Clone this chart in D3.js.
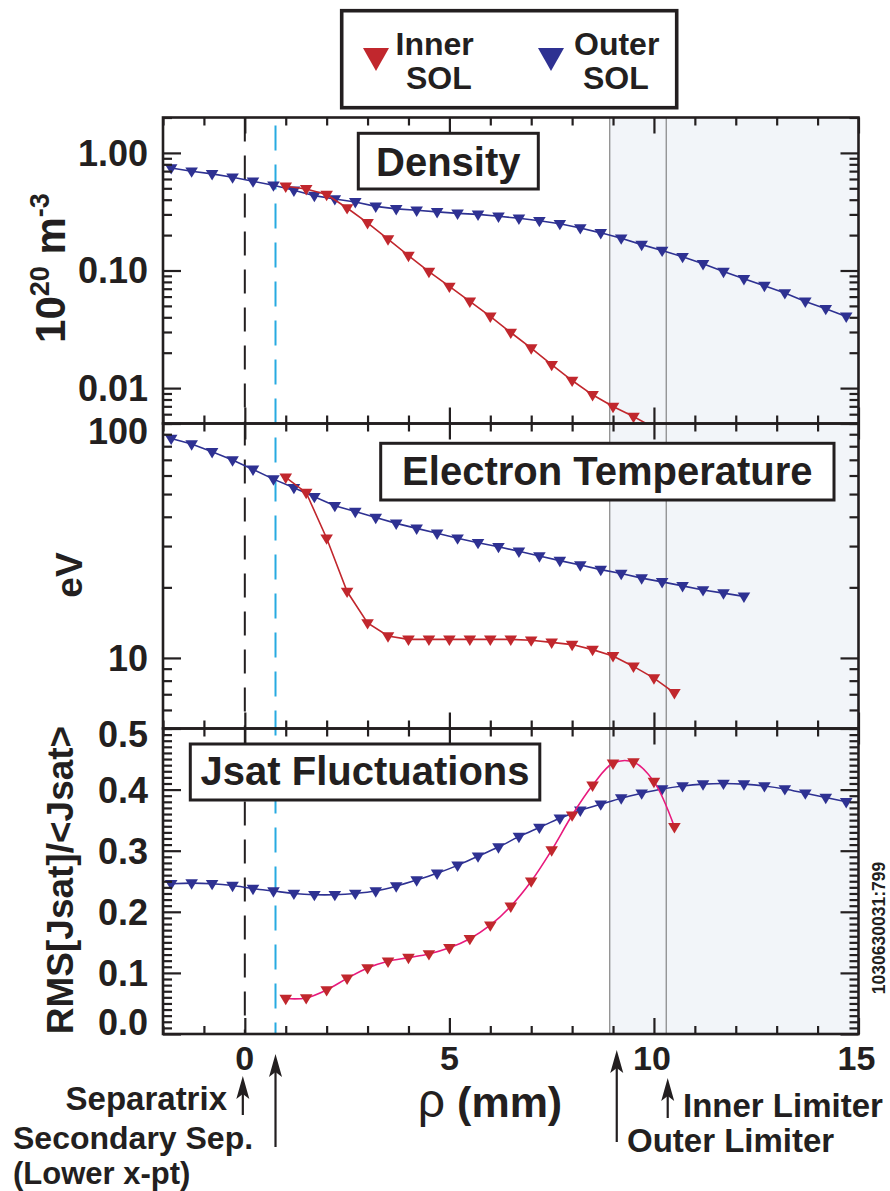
<!DOCTYPE html>
<html><head><meta charset="utf-8">
<script src="https://cdn.jsdelivr.net/npm/d3@7"></script>
<style>
body{margin:0;background:#fff}
svg{display:block}
text{font-family:"Liberation Sans",Arial,Helvetica,sans-serif;font-weight:bold;fill:#231f20}
</style></head><body>
<svg id="c" width="890" height="1191"></svg>
<script>
// ---------------- data ----------------
const outerX = [-1.8,-1.3,-0.8,-0.3,0.2,0.7,1.2,1.7,2.2,2.7,3.2,3.7,4.2,4.7,5.2,5.7,6.2,6.7,7.2,7.7,8.2,8.7,9.2,9.7,10.2,10.7,11.2,11.7,12.2,12.7,13.2,13.7,14.2,14.7];
const innerX = [1.0,1.5,2.0,2.5,3.0,3.5,4.0,4.5,5.0,5.5,6.0,6.5,7.0,7.5,8.0,8.5,9.0,9.5,10.0,10.5];

const densityOuter = [0.745,0.698,0.663,0.621,0.574,0.531,0.481,0.433,0.406,0.383,0.351,0.334,0.325,0.315,0.306,0.300,0.289,0.278,0.265,0.250,0.230,0.209,0.188,0.166,0.148,0.131,0.114,0.098,0.085,0.0743,0.0644,0.0546,0.0473,0.0407];
const densityInner = [0.520,0.494,0.442,0.340,0.254,0.185,0.134,0.098,0.0732,0.0546,0.0407,0.0297,0.0219,0.0158,0.0116,0.00877,0.00697,0.00573,0.0046];

const tempOuter = [86.3,81.7,75.7,69.8,63.7,57.9,53.2,48.7,44.6,42.1,39.7,37.5,35.7,34.0,32.4,31.0,29.8,28.5,27.2,26.0,24.9,23.8,22.9,21.9,21.1,20.3,19.5,18.9,18.3];
const tempInner = [58.9,50.7,32.4,19.2,14.1,12.4,12.0,12.0,12.0,12.0,12.0,12.0,11.9,11.65,11.4,10.85,10.2,9.2,8.2,7.1];

const jsatOuter = [0.246,0.247,0.246,0.243,0.238,0.234,0.230,0.228,0.228,0.230,0.234,0.242,0.252,0.263,0.276,0.291,0.306,0.323,0.338,0.353,0.366,0.376,0.386,0.394,0.401,0.406,0.409,0.410,0.409,0.406,0.401,0.394,0.387,0.380];
const jsatInner = [0.058,0.059,0.072,0.091,0.108,0.119,0.125,0.131,0.141,0.156,0.178,0.209,0.250,0.301,0.358,0.407,0.443,0.445,0.413,0.339];

const xTickLabels = [0,5,10,15];
const densityTicks = [1,0.1,0.01];
const densityTickLabels = ["1.00","0.10","0.01"];
const tempTicks = [100,10];
const tempTickLabels = ["100","10"];
const jsatTicks = [0.5,0.4,0.3,0.2,0.1,0.0];
const jsatTickLabels = ["0.5","0.4","0.3","0.2","0.1","0.0"];

const separatrixX = 0, secondarySepX = 0.75, outerLimiterX = 8.92, innerLimiterX = 10.3;

// ---------------- layout ----------------
const BLUE="#2e3192", RED="#c1272d", PINK="#e8197d", CYAN="#27aae1", INK="#231f20", SHADE="#f2f5f9";
const svg = d3.select("#c");
const L=163, R=858.5;
const x = d3.scaleLinear().domain([-2,15]).range([L,R]);

const panels = [
  {id:"p1", top:117.5, bottom:423.5, y:d3.scaleLog().domain([0.005,2]),
   major:densityTicks, labels:densityTickLabels, labOff:[0,0,0],
   outer:{x:outerX, v:densityOuter}, inner:{x:innerX.slice(0,densityInner.length), v:densityInner},
   innerLine:RED, curve:d3.curveLinear,
   box:{x0:358.3,x1:538.3,y0:133.3,y1:189,base:175.7,text:"Density"}},
  {id:"p2", top:423.5, bottom:728.5, y:d3.scaleLog().domain([5,100]),
   major:tempTicks, labels:tempTickLabels, labOff:[7.5,0],
   outer:{x:outerX.slice(0,tempOuter.length), v:tempOuter}, inner:{x:innerX, v:tempInner},
   innerLine:RED, curve:d3.curveLinear,
   box:{x0:380.7,x1:834,y0:443.3,y1:500,base:485,text:"Electron Temperature"}},
  {id:"p3", top:728.5, bottom:1034, y:d3.scaleLinear().domain([0,0.5]),
   major:jsatTicks, labels:jsatTickLabels, labOff:[5.5,0,0,0,0,-11.5],
   outer:{x:outerX, v:jsatOuter}, inner:{x:innerX, v:jsatInner},
   innerLine:PINK, curve:d3.curveCatmullRom,
   box:{x0:190.3,x1:539.8,y0:744,y1:800,base:785,text:"Jsat Fluctuations"}}
];
panels.forEach(p=>p.y.range([p.bottom,p.top]));

const defs = svg.append("defs");
const tri = "M-6.3,-3.8L6.3,-3.8L0,6.6Z";

panels.forEach(p=>{
  defs.append("clipPath").attr("id","clip-"+p.id).append("rect")
    .attr("x",L).attr("y",p.top).attr("width",R-L).attr("height",p.bottom-p.top);
  svg.append("rect").attr("x",x(outerLimiterX)).attr("y",p.top)
    .attr("width",R-x(outerLimiterX)).attr("height",p.bottom-p.top).attr("fill",SHADE);
});

// vertical reference lines spanning all panels
const yTop = panels[0].top, yBot = panels[2].bottom;
[outerLimiterX, innerLimiterX].forEach(v=>{
  svg.append("line").attr("x1",x(v)).attr("x2",x(v)).attr("y1",yTop).attr("y2",yBot)
    .attr("stroke","#7a7a7a").attr("stroke-width",1.1);
});
svg.append("line").attr("x1",x(separatrixX)).attr("x2",x(separatrixX)).attr("y1",yTop).attr("y2",yBot)
  .attr("stroke",INK).attr("stroke-width",2).attr("stroke-dasharray","24,14");
svg.append("line").attr("x1",x(secondarySepX)).attr("x2",x(secondarySepX)).attr("y1",yTop+8).attr("y2",yBot)
  .attr("stroke",CYAN).attr("stroke-width",2).attr("stroke-dasharray","25,14");

panels.forEach(p=>{
  const g = svg.append("g").attr("clip-path","url(#clip-"+p.id+")");
  const series = [
    {d:p.outer, line:BLUE, fill:BLUE},
    {d:p.inner, line:p.innerLine, fill:RED}
  ];
  series.forEach(s=>{
    const pts = s.d.x.map((xx,i)=>[xx,s.d.v[i]]);
    const line = d3.line().x(d=>x(d[0])).y(d=>p.y(d[1])).curve(p.curve);
    g.append("path").attr("d",line(pts)).attr("fill","none").attr("stroke",s.line).attr("stroke-width",1.6);
    g.selectAll(null).data(pts).enter().append("path")
      .attr("d",tri).attr("transform",d=>`translate(${x(d[0])},${p.y(d[1])})`)
      .attr("fill",s.fill);
  });

  // title box
  const b=p.box;
  svg.append("rect").attr("x",b.x0).attr("y",b.y0).attr("width",b.x1-b.x0).attr("height",b.y1-b.y0)
    .attr("fill","#fff").attr("stroke",INK).attr("stroke-width",3);
  svg.append("text").attr("x",(b.x0+b.x1)/2).attr("y",b.base).attr("text-anchor","middle")
    .attr("font-size",40).text(b.text);

  // frame
  svg.append("rect").attr("x",L).attr("y",p.top).attr("width",R-L).attr("height",p.bottom-p.top)
    .attr("fill","none").attr("stroke",INK).attr("stroke-width",2.6);

  // y ticks (inward, both sides)
  let minor;
  if (p.id==="p3") minor = d3.range(0,51).map(i=>i/100).filter(v=>Math.round(v*100)%10!==0);
  else minor = p.y.ticks().filter(v=>!p.major.some(m=>Math.abs(m-v)/m<1e-6));
  const mk = (ax,tx)=>{
    const a = svg.append("g").attr("transform",tx).call(ax);
    a.select(".domain").remove();
    a.selectAll("line").attr("stroke",INK).attr("stroke-width",2.2);
    return a;
  };
  mk(d3.axisLeft(p.y).tickValues(minor).tickSize(-9).tickFormat(""),`translate(${L},0)`);
  mk(d3.axisLeft(p.y).tickValues(p.major).tickSize(-18).tickFormat(""),`translate(${L},0)`);
  mk(d3.axisRight(p.y).tickValues(minor).tickSize(-9).tickFormat(""),`translate(${R},0)`);
  mk(d3.axisRight(p.y).tickValues(p.major).tickSize(-18).tickFormat(""),`translate(${R},0)`);

  // y tick labels
  p.major.forEach((v,i)=>{
    svg.append("text").attr("x",148).attr("y",p.y(v)+(p.labOff[i]||0)).attr("dy","0.36em")
      .attr("text-anchor","end").attr("font-size",36).text(p.labels[i]);
  });

  // x ticks top and bottom (inward)
  const xMinor = d3.range(-2,16).filter(v=>v%5!==0);
  const xMajor = d3.range(-2,16).filter(v=>v%5===0);
  mk(d3.axisTop(x).tickValues(xMinor).tickSize(-8).tickFormat(""),`translate(0,${p.top})`);
  mk(d3.axisTop(x).tickValues(xMajor).tickSize(-16).tickFormat(""),`translate(0,${p.top})`);
  mk(d3.axisBottom(x).tickValues(xMinor).tickSize(-8).tickFormat(""),`translate(0,${p.bottom})`);
  mk(d3.axisBottom(x).tickValues(xMajor).tickSize(-16).tickFormat(""),`translate(0,${p.bottom})`);
});

// x tick labels
xTickLabels.forEach(v=>{
  svg.append("text").attr("x",x(v)-(v>=10?2:0)).attr("y",1070).attr("text-anchor","middle")
    .attr("font-size",34).text(v);
});

// x axis title
const xt = svg.append("text").attr("x",490).attr("y",1117).attr("text-anchor","middle").attr("font-size",43);
xt.append("tspan").attr("font-weight","normal").attr("font-size",48).text("ρ");
xt.append("tspan").text(" (mm)");

// y axis titles
const yt1 = svg.append("text").attr("transform","translate(65,268) rotate(-90)").attr("text-anchor","middle").attr("font-size",42);
yt1.append("tspan").text("10");
yt1.append("tspan").attr("font-size",27).attr("dy",-16).text("20");
yt1.append("tspan").attr("dy",16).text(" m");
yt1.append("tspan").attr("font-size",27).attr("dy",-16).text("-3");

svg.append("text").attr("transform","translate(82,575) rotate(-90)").attr("text-anchor","middle")
  .attr("font-size",37).text("eV");
svg.append("text").attr("transform","translate(73,880) rotate(-90)").attr("text-anchor","middle")
  .attr("font-size",37).text("RMS[Jsat]/<Jsat>");

svg.append("text").attr("transform","translate(885,928) rotate(-90)").attr("text-anchor","middle")
  .attr("font-size",17.5).text("1030630031:799");

// legend
svg.append("rect").attr("x",341.7).attr("y",10.7).attr("width",335).attr("height",97)
  .attr("fill","#fff").attr("stroke",INK).attr("stroke-width",3.6);
const legendItems = [
  {label:["Inner","SOL"], color:RED, tx:376, lx:[395.5,406]},
  {label:["Outer","SOL"], color:BLUE, tx:551, lx:[574,583]}
];
legendItems.forEach(it=>{
  svg.append("path").attr("d","M-13,-8L13,-8L0,15Z").attr("transform",`translate(${it.tx},56)`).attr("fill",it.color);
  svg.append("text").attr("x",it.lx[0]).attr("y",55).attr("font-size",32).text(it.label[0]);
  svg.append("text").attr("x",it.lx[1]).attr("y",88.5).attr("font-size",32).text(it.label[1]);
});

// annotation arrows
function arrow(xp, tip, tail){
  svg.append("line").attr("x1",xp).attr("x2",xp).attr("y1",tip+10).attr("y2",tail)
    .attr("stroke",INK).attr("stroke-width",2.2);
  svg.append("path").attr("d",`M${xp},${tip}L${xp+6.5},${tip+23}L${xp},${tip+18}L${xp-6.5},${tip+23}Z`).attr("fill",INK);
}
arrow(x(separatrixX)-2, 1076, 1115);
arrow(x(secondarySepX), 1054, 1147);
arrow(x(outerLimiterX)+7, 1050, 1142);
arrow(x(innerLimiterX)+1.5, 1078, 1118);

svg.append("text").attr("x",227).attr("y",1110).attr("text-anchor","end").attr("font-size",33).text("Separatrix");
svg.append("text").attr("x",13).attr("y",1149).attr("font-size",32).text("Secondary Sep.");
svg.append("text").attr("x",13).attr("y",1184).attr("font-size",31).text("(Lower x-pt)");
svg.append("text").attr("x",683).attr("y",1117).attr("font-size",33).text("Inner Limiter");
svg.append("text").attr("x",627).attr("y",1152).attr("font-size",33).text("Outer Limiter");
</script>
</body></html>
